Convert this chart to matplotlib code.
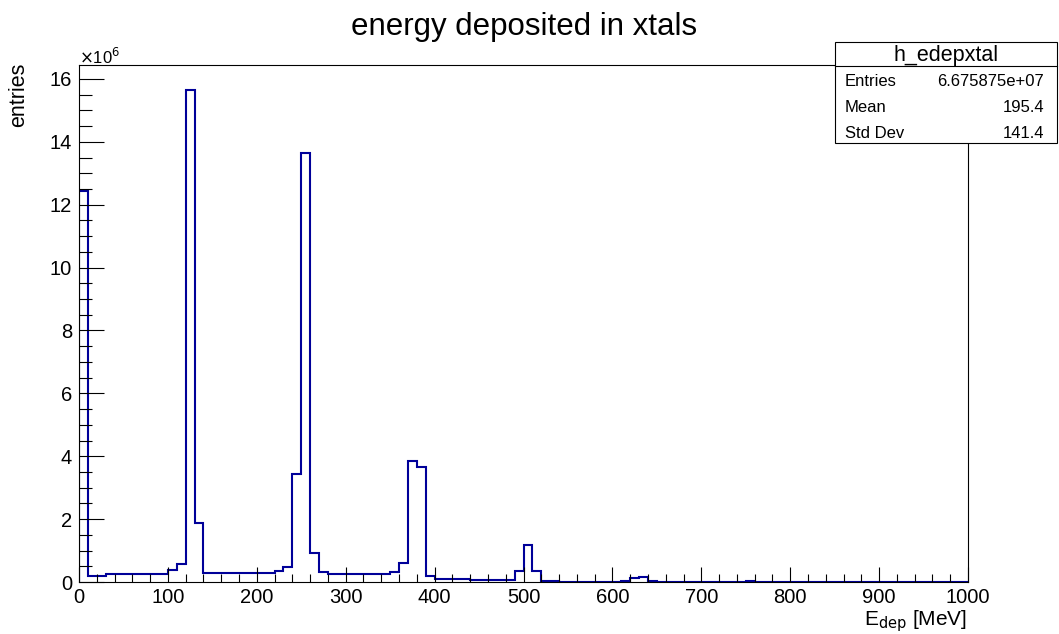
import numpy as np
import matplotlib
matplotlib.use("Agg")
import matplotlib.pyplot as plt
from matplotlib.patches import Rectangle
from matplotlib.lines import Line2D

plt.rcParams["font.family"] = "Liberation Sans"

# histogram h_edepxtal: 100 bins of 10 MeV, counts in units of 1e6
bin_edges = np.arange(0, 1001, 10)
counts = np.array(
    [12.45, 0.20, 0.20, 0.25, 0.25, 0.25, 0.25, 0.25, 0.25, 0.25,
     0.37, 0.58, 15.66, 1.88, 0.30, 0.30, 0.30, 0.30, 0.30, 0.30,
     0.30, 0.30, 0.35, 0.49, 3.44, 13.66, 0.91, 0.31, 0.26, 0.26,
     0.26, 0.26, 0.26, 0.26, 0.26, 0.31, 0.59, 3.85, 3.65, 0.19,
     0.10, 0.10, 0.10, 0.10, 0.07, 0.07, 0.07, 0.07, 0.06, 0.34,
     1.17, 0.36, 0.03, 0.03, 0.01, 0.01, 0.01, 0.01, 0.01, 0.01,
     0.01, 0.03, 0.13, 0.16, 0.03, 0.01, 0.01, 0.01, 0.01, 0.01,
     0.01, 0.01, 0.01, 0.01, 0.01, 0.03, 0.01, 0.01, 0.01, 0.01,
     0.01, 0.01, 0.01, 0.01, 0.01, 0.01, 0.01, 0.01, 0.01, 0.01,
     0.01, 0.01, 0.01, 0.01, 0.01, 0.01, 0.01, 0.01, 0.01, 0.01]
)

hist_name = "h_edepxtal"
stat_labels = ["Entries", "Mean", "Std Dev"]
stat_values = ["6.675875e+07", "195.4", "141.4"]

W, H = 1059, 634
fig = plt.figure(figsize=(W / 100, H / 100), dpi=100)
ax = fig.add_axes([79 / W, 1 - 582 / H, (968 - 79) / W, (582 - 65) / H])

ax.stairs(counts, bin_edges, color="#000099", lw=1.5)

ax.set_xlim(0, 1000)
ax.set_ylim(0, 1.05 * counts.max())
ax.set_xticks(np.arange(0, 1001, 100))
ax.set_xticks(np.arange(0, 1001, 20), minor=True)
ax.set_yticks(np.arange(0, 17, 2))
ax.set_yticks(np.arange(0, 16.5, 0.5), minor=True)
ax.tick_params(axis="x", which="major", direction="in", length=11, width=0.8, pad=4, labelsize=14.5)
ax.tick_params(axis="x", which="minor", direction="in", length=5.5, width=0.8)
ax.tick_params(axis="y", which="major", direction="in", length=18, width=0.8, pad=5, labelsize=14.5)
ax.tick_params(axis="y", which="minor", direction="in", length=9.5, width=0.8)
for sp in ax.spines.values():
    sp.set_linewidth(0.8)

# titles
fig.text(524 / W, 1 - 27 / H, "energy deposited in xtals", ha="center", va="center", fontsize=22.5)
fig.text(19 / W, 1 - 63 / H, "entries", ha="center", va="top", rotation=90, fontsize=15.5)
fig.text(967 / W, 1 - 625 / H, r"E$_{\rm dep}$ [MeV]", ha="right", va="baseline", fontsize=15)
fig.text(79 / W, 1 - 64 / H, r"$\times$10$^{6}$", ha="left", va="baseline", fontsize=12)

# stats box
bx0, bx1, by0, by1, bsep = 835, 1057, 42, 143, 66
fig.add_artist(Rectangle((bx0 / W, 1 - by1 / H), (bx1 - bx0) / W, (by1 - by0) / H,
                         transform=fig.transFigure, facecolor="white", edgecolor="black",
                         lw=0.8, zorder=5))
fig.add_artist(Line2D([bx0 / W, bx1 / W], [1 - bsep / H, 1 - bsep / H],
                      transform=fig.transFigure, color="black", lw=0.8, zorder=6))
fig.text((bx0 + bx1) / 2 / W, 1 - 55 / H, hist_name, ha="center", va="center", fontsize=15.5, zorder=7)
for i, (lab, val) in enumerate(zip(stat_labels, stat_values)):
    yy = 1 - (82 + 25.5 * i) / H
    fig.text(845 / W, yy, lab, ha="left", va="center", fontsize=12, zorder=7)
    fig.text(1044 / W, yy, val, ha="right", va="center", fontsize=12, zorder=7)

fig.savefig("out.png", dpi=100)
